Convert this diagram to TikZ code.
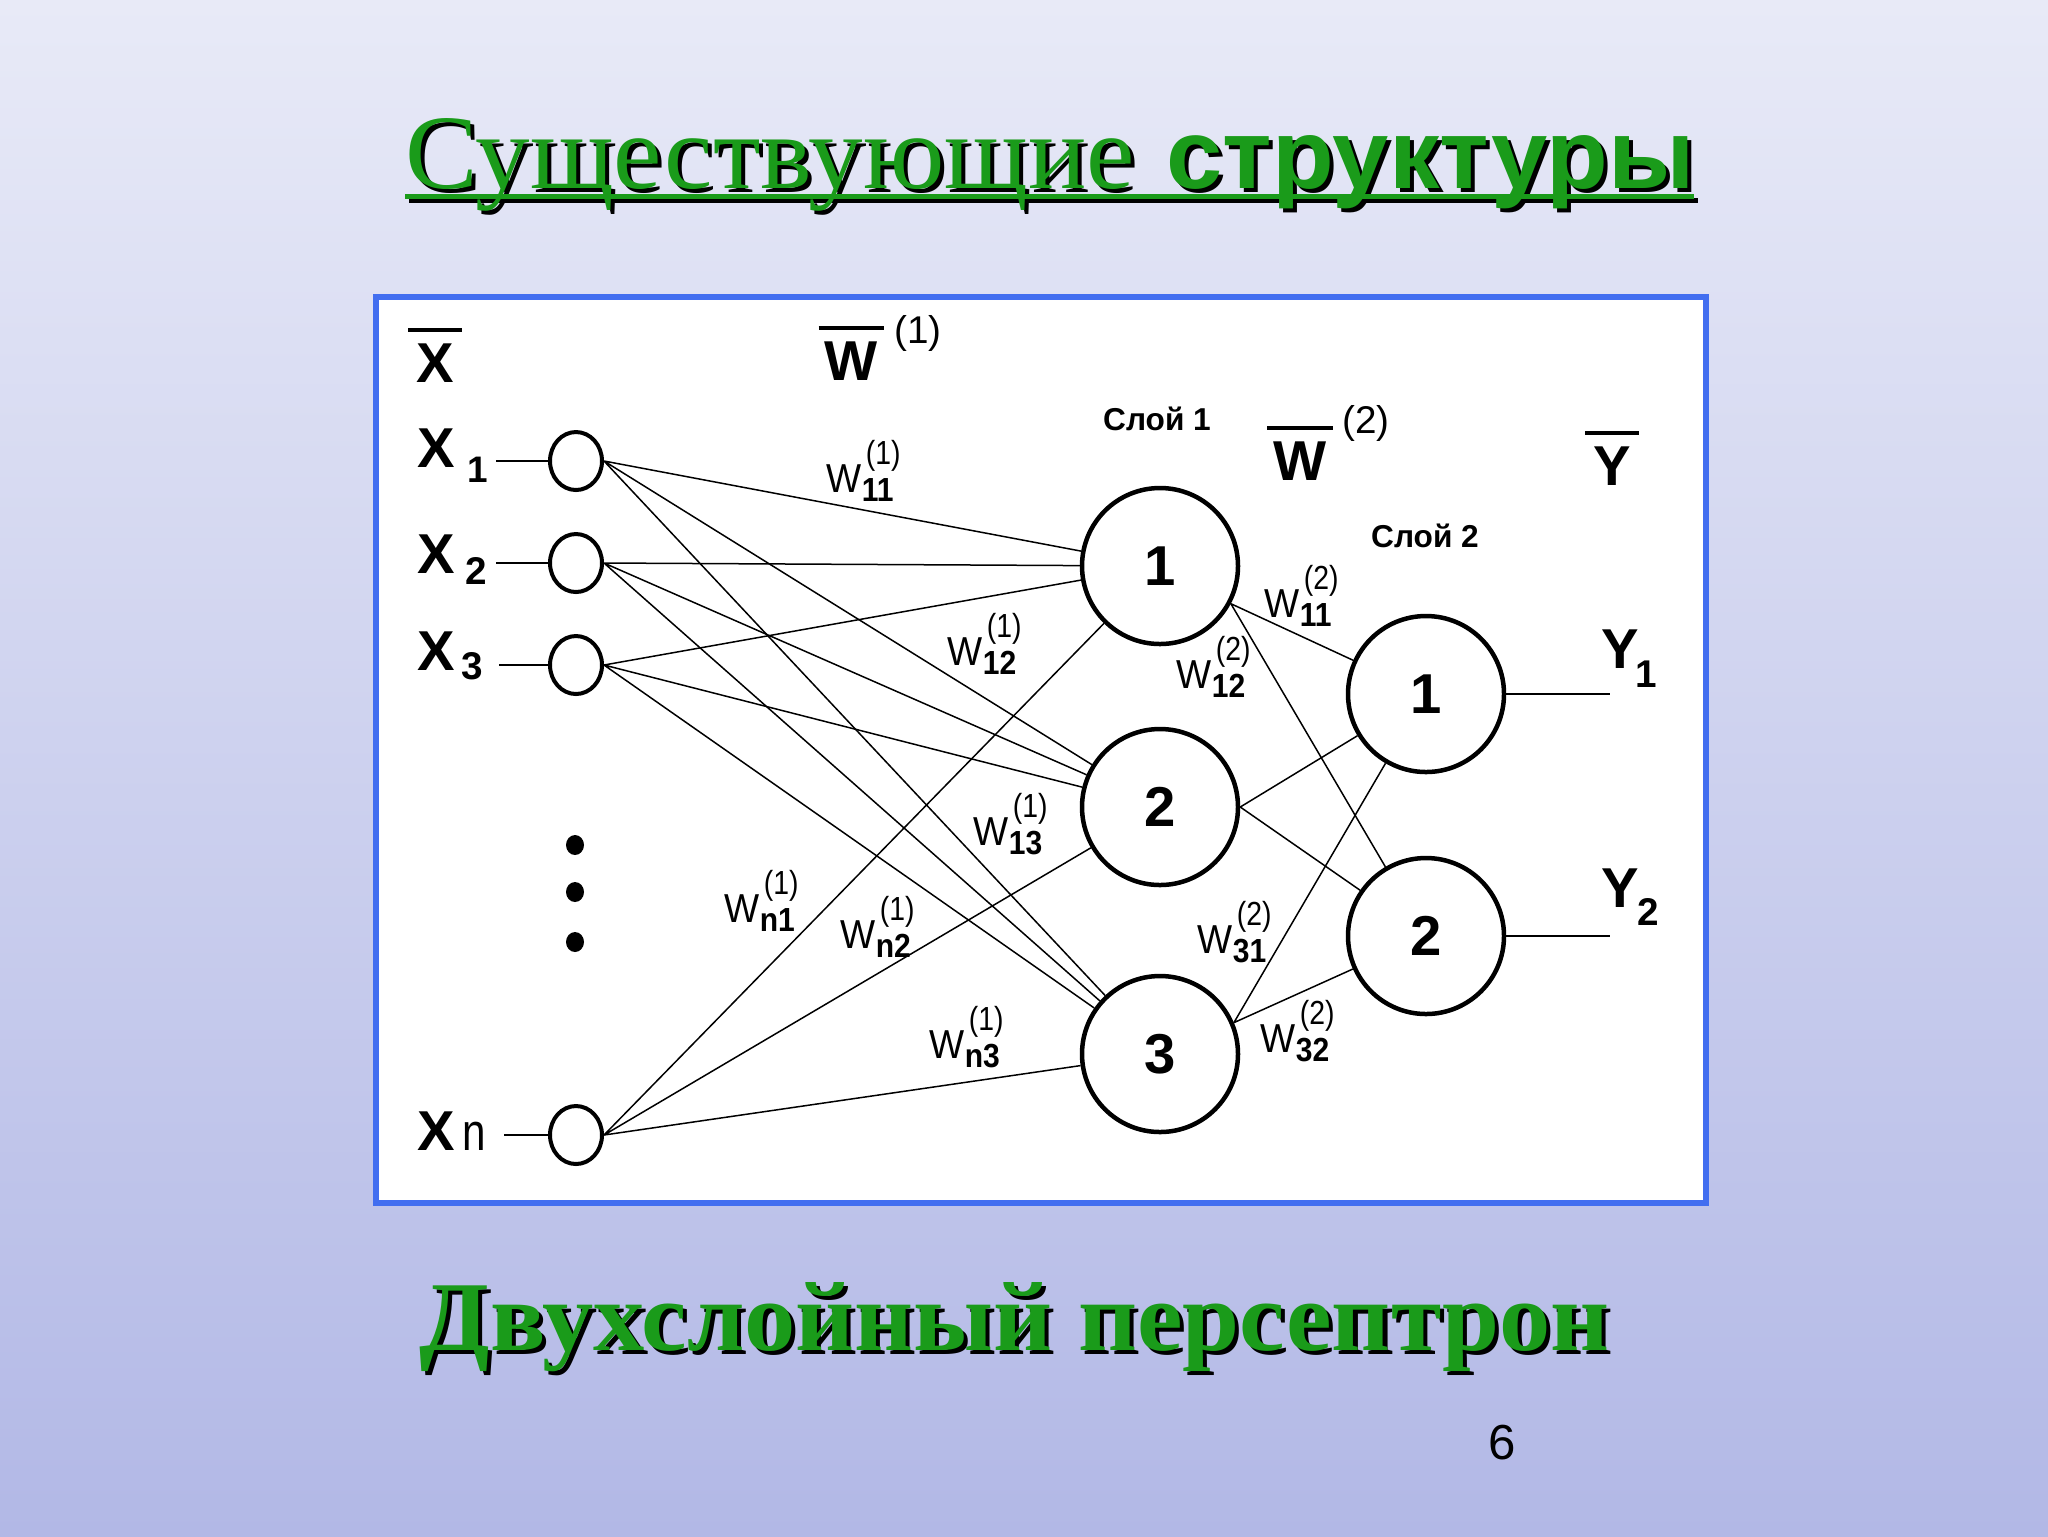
\documentclass[tikz,border=0pt]{standalone}
\usepackage{fontspec}
\setmainfont{Liberation Sans}
\newfontfamily\titleserif{Liberation Serif}
\usepackage{graphicx}
\usepackage{tikz}
\usetikzlibrary{shapes.geometric}
\definecolor{bgtop}{RGB}{232,234,247}
\definecolor{bgbot}{RGB}{178,184,230}
\definecolor{frameblue}{RGB}{66,110,240}
\definecolor{ttlgreen}{RGB}{26,155,26}
\tikzstyle{wire} = [line width=0.15mm]
\tikzstyle{lead} = [line width=0.2mm]
\newcommand{\ovl}[2]{\vbox{\offinterlineskip\hbox to #1{\rule{#1}{0.4mm}}\kern1.1mm\hbox to #1{\hss#2\hss}}}
\newcommand{\wlab}[2]{\scalebox{0.92}[1]{W}\rlap{\raisebox{-0.9mm}{\fontsize{9.5}{10}\selectfont\bfseries\scalebox{0.9}[1]{#1}}}\kern0.4mm\raisebox{2.8mm}{\fontsize{9.5}{10}\selectfont\scalebox{0.85}[1]{(#2)}}}

\begin{document}
\begin{tikzpicture}[
    x=0.1mm, y=-0.1mm,
    inp/.style={ellipse, draw, line width=0.4mm, minimum width=5.2mm, minimum height=5.8mm, inner sep=0pt},
    neuron/.style={circle, draw, line width=0.45mm, minimum size=15.6mm, inner sep=0pt, font=\fontsize{16}{18}\selectfont\bfseries},
    bullet/.style={ellipse, fill, minimum width=1.8mm, minimum height=2mm, inner sep=0pt},
    big/.style={font=\fontsize{16}{18}\selectfont\bfseries, inner sep=0pt, anchor=base},
    wlabel/.style={font=\fontsize{11.5}{13}\selectfont, inner sep=0pt, anchor=base west},
    layertext/.style={font=\fontsize{9}{11}\selectfont\bfseries, inner sep=0pt},
    supr/.style={font=\fontsize{11}{13}\selectfont, inner sep=0pt},
    ttl/.style={inner sep=0pt, anchor=base west},
  ]
  \useasboundingbox (0,0) rectangle (2048,1536);
  \shade[top color=bgtop, bottom color=bgbot] (0,0) rectangle (2048,1536);

  \draw[black, line width=0.5mm] (409,200) -- (1698,200);
  \node[ttl, text=black] (t1s) at (409,192) {\resizebox{72.9mm}{7mm}{\titleserif Существующие}};
  \node[ttl, text=black] (t2s) at (1170,192) {\resizebox{52.8mm}{5.3mm}{\bfseries структуры}};
  \draw[ttlgreen, line width=0.5mm] (405,196) -- (1694,196);
  \node[ttl, text=ttlgreen] (t1) at (405,188) {\resizebox{72.9mm}{7mm}{\titleserif Существующие}};
  \node[ttl, text=ttlgreen] (t2) at (1166,188) {\resizebox{52.8mm}{5.3mm}{\bfseries структуры}};

  \draw[frameblue, line width=0.6mm, fill=white] (376,297) rectangle (1706,1203);

  \node[big] (xbar) at (435,382) {\ovl{5.4mm}{X}};
  \node[big] (w1bar) at (851,380) {\ovl{6.5mm}{W}};
  \node[supr] (w1sup) at (918,333) {(1)};
  \node[big] (w2bar) at (1300,480) {\ovl{6.6mm}{W}};
  \node[supr] (w2sup) at (1366,423) {(2)};
  \node[big] (ybar) at (1612,485) {\ovl{5.4mm}{Y}};
  \node[layertext] (lay1) at (1157,419) {Слой 1};
  \node[layertext] (lay2) at (1425,536) {Слой 2};

  \node[big, anchor=base west] (lx1) at (417,467) {X\kern1.2mm\raisebox{-1.5mm}{\fontsize{10.5}{12}\selectfont 1}};
  \node[big, anchor=base west] (lx2) at (417,573) {X\kern1mm\raisebox{-1.1mm}{\fontsize{11}{12}\selectfont 2}};
  \node[big, anchor=base west] (lx3) at (417,670) {X\kern0.6mm\raisebox{-0.9mm}{\fontsize{11}{12}\selectfont 3}};
  \node[big, anchor=base west] (lxn) at (417,1150) {X\kern0.7mm{\mdseries\fontsize{15}{17}\selectfont\scalebox{0.8}[1]{n}}};

  \node[inp] (x1) at (576,461) {};
  \node[inp] (x2) at (576,563) {};
  \node[inp] (x3) at (576,665) {};
  \node[inp] (xn) at (576,1135) {};
  \node[bullet] (d1) at (575,845) {};
  \node[bullet] (d2) at (575,892) {};
  \node[bullet] (d3) at (575,942) {};

  \node[neuron] (h1) at (1160,566) {1};
  \node[neuron] (h2) at (1160,807) {2};
  \node[neuron] (h3) at (1160,1054) {3};
  \node[neuron] (o1) at (1426,694) {1};
  \node[neuron] (o2) at (1426,936) {2};

  \node[big, anchor=base west] (ly1) at (1601,668) {Y\kern-0.4mm\raisebox{-1.9mm}{\fontsize{11}{12}\selectfont 1}};
  \node[big, anchor=base west] (ly2) at (1601,907) {Y\kern-0.2mm\raisebox{-1.8mm}{\fontsize{11}{12}\selectfont 2}};

  \draw[lead] (x1.west) -- ++(-5.2mm,0);
  \draw[lead] (x2.west) -- ++(-5.2mm,0);
  \draw[lead] (x3.west) -- ++(-4.9mm,0);
  \draw[lead] (xn.west) -- ++(-4.4mm,0);
  \draw[lead] (o1.east) -- ++(10.4mm,0);
  \draw[lead] (o2.east) -- ++(10.4mm,0);

  \draw[wire] (x1.east) -- (h1) (x1.east) -- (h2) (x1.east) -- (h3);
  \draw[wire] (x2.east) -- (h1) (x2.east) -- (h2) (x2.east) -- (h3);
  \draw[wire] (x3.east) -- (h1) (x3.east) -- (h2) (x3.east) -- (h3);
  \draw[wire] (xn.east) -- (h1) (xn.east) -- (h2) (xn.east) -- (h3);
  \draw[wire] (h1.-28) -- (o1) (h1.-28) -- (o2);
  \draw[wire] (h2.east) -- (o1) (h2.east) -- (o2);
  \draw[wire] (h3.23) -- (o1) (h3.23) -- (o2);

  \node[wlabel] (w11a) at (826,492) {\wlab{11}{1}};
  \node[wlabel] (w12a) at (947,665) {\wlab{12}{1}};
  \node[wlabel] (w13a) at (973,845) {\wlab{13}{1}};
  \node[wlabel] (wn1a) at (724,922) {\wlab{n1}{1}};
  \node[wlabel] (wn2a) at (840,948) {\wlab{n2}{1}};
  \node[wlabel] (wn3a) at (929,1058) {\wlab{n3}{1}};
  \node[wlabel] (w11b) at (1264,617) {\wlab{11}{2}};
  \node[wlabel] (w12b) at (1176,688) {\wlab{12}{2}};
  \node[wlabel] (w31b) at (1197,953) {\wlab{31}{2}};
  \node[wlabel] (w32b) at (1260,1052) {\wlab{32}{2}};

  \node[ttl, text=black] (t3s) at (423,1354) {\resizebox{119mm}{6.8mm}{\titleserif\bfseries Двухслойный персептрон}};
  \node[ttl, text=ttlgreen] (t3) at (419,1350) {\resizebox{119mm}{6.8mm}{\titleserif\bfseries Двухслойный персептрон}};
  \node[font=\fontsize{14}{16}\selectfont] (pnum) at (1502,1443) {6};
\end{tikzpicture}
\end{document}
